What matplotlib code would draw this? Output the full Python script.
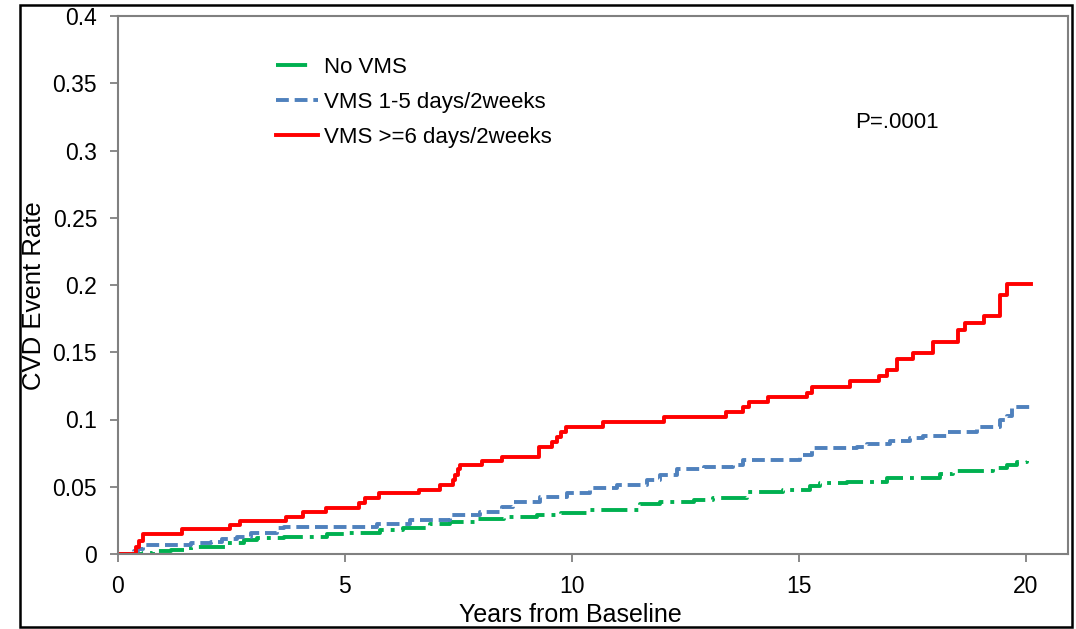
import matplotlib
matplotlib.use("Agg")
import matplotlib.pyplot as plt
from matplotlib.lines import Line2D
from matplotlib.patches import Rectangle

plt.rcParams['font.family'] = ['Liberation Sans', 'DejaVu Sans']

# years from baseline / cumulative CVD event rate
t_none = [0, 0.55, 0.78, 1.16, 1.60, 2.40, 2.77, 3.07, 3.66, 4.60, 4.97, 5.78, 6.29, 6.88,
          7.32, 7.90, 8.50, 9.24, 9.75, 10.34, 11.50, 11.95, 12.68, 13.10, 13.86, 14.66,
          15.25, 15.47, 16.07, 16.95, 18.12, 18.40, 19.28, 19.59, 19.80, 20.03]
v_none = [0, 0.001, 0.0025, 0.003, 0.005, 0.008, 0.0104, 0.012, 0.013, 0.0149, 0.0156, 0.018,
          0.019, 0.022, 0.024, 0.026, 0.0275, 0.029, 0.0305, 0.033, 0.037, 0.0387, 0.040,
          0.042, 0.046, 0.0476, 0.0505, 0.0528, 0.0535, 0.0565, 0.0595, 0.0617, 0.064,
          0.066, 0.0684, 0.069]

t_mid = [0, 0.35, 0.45, 0.55, 1.60, 2.04, 2.30, 2.62, 2.92, 3.50, 3.66, 5.70, 6.44, 7.32,
         7.98, 8.47, 8.71, 9.30, 9.90, 10.40, 11.00, 11.66, 11.95, 12.32, 12.90, 13.55,
         13.78, 15.03, 15.30, 16.29, 16.50, 17.00, 17.45, 17.74, 18.27, 18.93, 19.44,
         19.59, 19.70, 20.12]
v_mid = [0, 0.002, 0.004, 0.0067, 0.008, 0.009, 0.011, 0.013, 0.0156, 0.019, 0.020, 0.022,
         0.025, 0.029, 0.031, 0.035, 0.0387, 0.0424, 0.045, 0.049, 0.051, 0.055, 0.0587,
         0.063, 0.065, 0.066, 0.070, 0.0736, 0.0788, 0.0796, 0.082, 0.084, 0.086, 0.0877,
         0.0907, 0.0944, 0.0996, 0.1026, 0.1093, 0.1093]

t_high = [0, 0.40, 0.47, 0.56, 1.42, 2.46, 2.68, 3.71, 4.08, 4.59, 5.32, 5.45, 5.74, 6.64,
          7.10, 7.37, 7.43, 7.49, 7.54, 8.03, 8.45, 9.28, 9.57, 9.68, 9.75, 9.86, 10.69,
          12.02, 13.40, 13.78, 13.90, 14.33, 15.17, 15.30, 16.13, 16.77, 16.95, 17.17,
          17.52, 17.96, 18.51, 18.67, 19.08, 19.44, 19.59, 20.12]
v_high = [0, 0.005, 0.010, 0.015, 0.0186, 0.0216, 0.0245, 0.0275, 0.031, 0.034, 0.038,
          0.0415, 0.045, 0.0476, 0.0513, 0.055, 0.059, 0.063, 0.066, 0.069, 0.072, 0.0795,
          0.083, 0.087, 0.091, 0.0944, 0.098, 0.102, 0.1055, 0.109, 0.113, 0.1167, 0.12,
          0.124, 0.1286, 0.132, 0.137, 0.145, 0.1495, 0.1576, 0.1665, 0.1717, 0.177,
          0.1926, 0.2007, 0.2007]

labels = ['No VMS', 'VMS 1-5 days/2weeks', 'VMS >=6 days/2weeks']
xticks = [0, 5, 10, 15, 20]
yticks = [0, 0.05, 0.1, 0.15, 0.2, 0.25, 0.3, 0.35, 0.4]
ytick_labels = ['0', '0.05', '0.1', '0.15', '0.2', '0.25', '0.3', '0.35', '0.4']

green = '#00B050'
blue = '#4F81BD'
red = '#FF0000'
lw = 2.8

fig = plt.figure(figsize=(10.76, 6.29), dpi=100)
ax = fig.add_axes([118/1076, 1-554/629, (1068-118)/1076, (554-16)/629])

ax.step(t_none, v_none, where='post', color=green, lw=lw, dashes=(6.7, 1.8, 1, 1.8))
ax.step(t_mid, v_mid, where='post', color=blue, lw=lw, dashes=(3.3, 1.5))
ax.step(t_high, v_high, where='post', color=red, lw=lw)

ax.set_xlim(0, 20.93)
ax.set_ylim(0, 0.4)
ax.set_xticks(xticks)
ax.set_yticks(yticks)
ax.set_yticklabels(ytick_labels)
ax.tick_params(direction='out', length=6, width=1.3, color='#808080', labelsize=16.5, pad=9)

for s in ax.spines.values():
    s.set_color('#808080')
    s.set_linewidth(1.5)

ax.set_ylabel('CVD Event Rate', fontsize=18.5)
ax.yaxis.set_label_coords(-0.076, 0.48)
fig.text(570/1076, 1-622/629, 'Years from Baseline', fontsize=18, ha='center', va='baseline')

handles = [Line2D([], [], color=green, lw=lw, dashes=(8, 6)),
           Line2D([], [], color=blue, lw=lw, dashes=(3.3, 1.5)),
           Line2D([], [], color=red, lw=lw)]
fig.legend(handles, labels, loc='upper left', bbox_to_anchor=(276/1076, 1-57/629),
           frameon=False, fontsize=16, handlelength=1.9, handletextpad=0.25,
           labelspacing=0.63, borderpad=0, borderaxespad=0)

fig.text(855/1076, 1-122/629, 'P=.0001', fontsize=16, ha='left', va='center')

# outer frame of the original slide
frame = Rectangle((20/1076, 2/629), 1052/1076, 622/629, transform=fig.transFigure,
                  fill=False, edgecolor='black', lw=1.8, zorder=10)
fig.patches.append(frame)

fig.savefig('out.png', dpi=100)
